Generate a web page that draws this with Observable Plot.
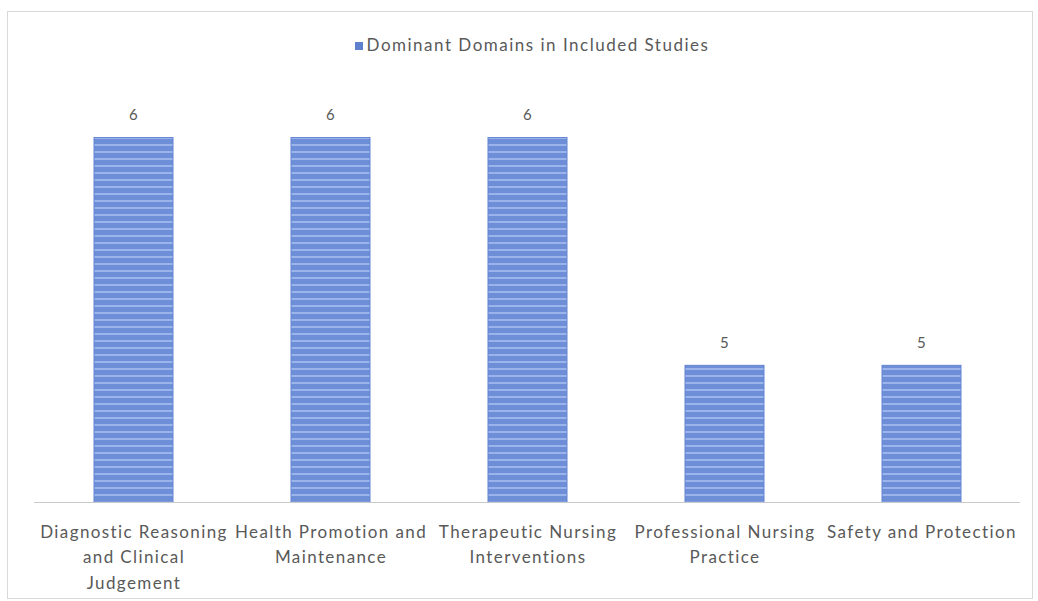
<!DOCTYPE html>
<html>
<head>
<meta charset="utf-8">
<script src="https://cdn.jsdelivr.net/npm/d3@7"></script>
<script src="https://cdn.jsdelivr.net/npm/@observablehq/plot@0.6"></script>
<style>
  html, body { margin: 0; padding: 0; background: #fff; }
  #frame {
    position: absolute; left: 7px; top: 11px;
    width: 1024px; height: 586px;
    border: 1px solid #d9d9d9;
    font-family: Lato, "Noto Sans", sans-serif;
  }
  #legend {
    height: 20px; line-height: 20px; padding-top: 23px; padding-left: 24px;
    text-align: center; font-size: 17px; color: #595959; letter-spacing: 1.5px;
  }
  #legend .swatch {
    display: inline-block; width: 8px; height: 8px; background: #5f80cc;
    margin-right: 4px; vertical-align: 1px;
  }
  #legend-wrap { height: 44px; }
  #chart svg { letter-spacing: 1.4px; }
</style>
</head>
<body>
<div id="frame">
  <div id="legend-wrap"><div id="legend"><span class="swatch"></span>Dominant Domains in Included Studies</div></div>
  <div id="chart"></div>
</div>
<script>
// Domains and the number of included studies in which each dominates
const domains = [
  "Diagnostic Reasoning and Clinical Judgement",
  "Health Promotion and Maintenance",
  "Therapeutic Nursing Interventions",
  "Professional Nursing Practice",
  "Safety and Protection"
];
const studyCounts = [6, 6, 6, 5, 5];

// Wrapped category labels, as set under each bar
const domainLabels = [
  "Diagnostic Reasoning\nand Clinical\nJudgement",
  "Health Promotion and\nMaintenance",
  "Therapeutic Nursing\nInterventions",
  "Professional Nursing\nPractice",
  "Safety and Protection"
];

// Value axis range (axis itself is hidden)
const yMin = 4.4;
const yMax = 6.2;

const data = domains.map((d, i) => ({domain: d, count: studyCounts[i]}));
const labelOf = new Map(domains.map((d, i) => [d, domainLabels[i]]));

const chart = Plot.plot({
  width: 1024,
  height: 539,
  marginTop: 36,
  marginBottom: 93,
  marginLeft: 26,
  marginRight: 12,
  style: {fontFamily: "Lato, 'Noto Sans', sans-serif", background: "transparent"},
  x: {domain: domains, paddingInner: 0.6, paddingOuter: 0.3, label: null},
  y: {domain: [yMin, yMax], axis: null},
  marks: [
    Plot.barY(data, {x: "domain", y1: yMin, y2: "count", fill: "url(#stripes)",
      stroke: "#6384d0", strokeWidth: 1}),
    Plot.ruleY([yMin], {stroke: "#c9c9c9", strokeWidth: 1.2}),
    Plot.text(data, {x: "domain", y: "count", text: d => String(d.count), dy: -23,
      fontSize: 15, fill: "#595959"}),
    Plot.axisX({tickSize: 0, tickPadding: 17, fontSize: 17, lineHeight: 1.5,
      tickFormat: d => labelOf.get(d), color: "#595959", label: null,
      textStroke: "none"})
  ]
});

// Horizontal stripe fill for the bars
const ns = "http://www.w3.org/2000/svg";
const defs = document.createElementNS(ns, "defs");
const pat = document.createElementNS(ns, "pattern");
pat.setAttribute("id", "stripes");
pat.setAttribute("patternUnits", "userSpaceOnUse");
pat.setAttribute("width", "8");
pat.setAttribute("height", "7");
const base = document.createElementNS(ns, "rect");
base.setAttribute("width", "8"); base.setAttribute("height", "7");
base.setAttribute("fill", "#6e8ed7");
const line = document.createElementNS(ns, "rect");
line.setAttribute("y", "4"); line.setAttribute("width", "8"); line.setAttribute("height", "2");
line.setAttribute("fill", "#9bb4eb");
pat.appendChild(base); pat.appendChild(line);
defs.appendChild(pat);
chart.insertBefore(defs, chart.firstChild);

document.getElementById("chart").appendChild(chart);
</script>
</body>
</html>
